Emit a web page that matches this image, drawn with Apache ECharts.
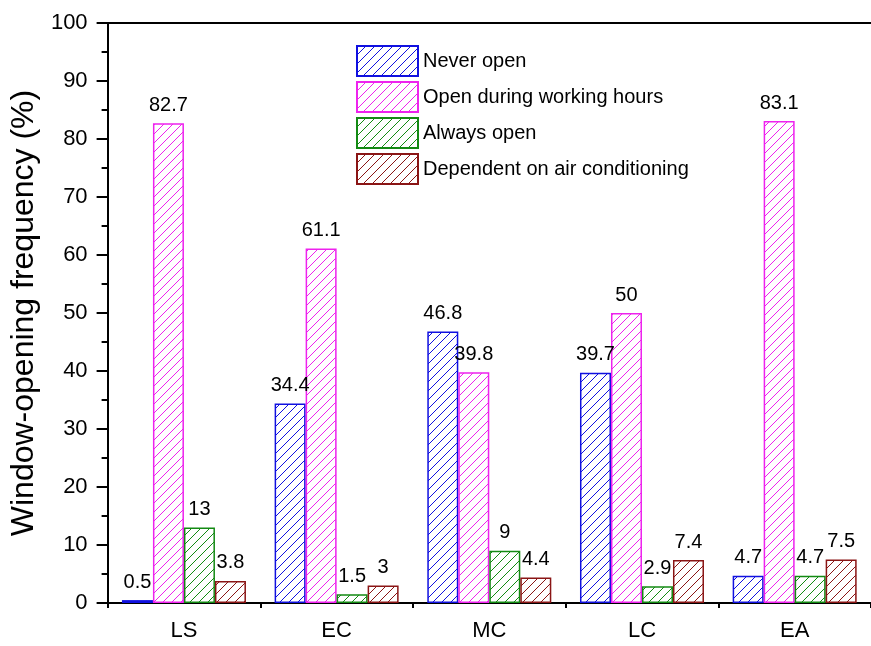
<!DOCTYPE html>
<html>
<head>
<meta charset="utf-8">
<script src="https://cdn.jsdelivr.net/npm/echarts@6/dist/echarts.min.js"></script>
<style>html,body{margin:0;padding:0;background:#fff;}#c{width:871px;height:646px;}</style>
</head>
<body>
<div id="c"></div>
<script>
const categories = ['LS', 'EC', 'MC', 'LC', 'EA'];
const seriesNames = ['Never open', 'Open during working hours', 'Always open', 'Dependent on air conditioning'];
const neverOpen = [0.5, 34.4, 46.8, 39.7, 4.7];
const openWorking = [82.7, 61.1, 39.8, 50, 83.1];
const alwaysOpen = [13, 1.5, 9, 2.9, 4.7];
const dependentAC = [3.8, 3, 4.4, 7.4, 7.5];
const yTicks = [0, 10, 20, 30, 40, 50, 60, 70, 80, 90, 100];

const colors = ['#1010e0', '#ee22ee', '#138a13', '#8a1515'];
const FONT = 'Liberation Sans, Arial, sans-serif';

function hatch(color) {
  const s = 9;
  const c = document.createElement('canvas');
  c.width = s; c.height = s;
  const g = c.getContext('2d');
  g.fillStyle = '#fff';
  g.fillRect(0, 0, s, s);
  g.strokeStyle = color;
  g.lineWidth = 1;
  g.beginPath();
  g.moveTo(0, s); g.lineTo(s, 0);
  g.moveTo(-2, 2); g.lineTo(2, -2);
  g.moveTo(s - 2, s + 2); g.lineTo(s + 2, s - 2);
  g.stroke();
  return c;
}

const dataSets = [neverOpen, openWorking, alwaysOpen, dependentAC];
const chart = echarts.init(document.getElementById('c'));
chart.setOption({
  animation: false,
  backgroundColor: '#fff',
  textStyle: { fontFamily: FONT },
  grid: { left: 106, top: 23, width: 775, height: 580, containLabel: false },
  legend: {
    orient: 'vertical', left: 351, top: 40,
    itemWidth: 61, itemHeight: 30, itemGap: 4,
    icon: 'rect',
    textStyle: { fontFamily: FONT, fontSize: 20, color: '#000' },
    data: seriesNames
  },
  xAxis: [
    {
      type: 'category', data: categories, position: 'bottom',
      axisLine: { lineStyle: { color: '#000', width: 2 } },
      axisTick: { alignWithLabel: true, length: 10, lineStyle: { color: '#000', width: 2 } },
      axisLabel: { color: '#000', fontSize: 22, fontFamily: FONT, margin: 17 }
    },
    {
      type: 'category', data: categories, position: 'bottom',
      axisLine: { show: false },
      axisTick: { show: true, length: 5, lineStyle: { color: '#000', width: 2 } },
      axisLabel: { show: false }
    },
    {
      type: 'category', data: categories, position: 'top',
      axisLine: { show: true, lineStyle: { color: '#000', width: 2 } },
      axisTick: { show: false },
      axisLabel: { show: false }
    }
  ],
  yAxis: {
    type: 'value', min: yTicks[0], max: yTicks[yTicks.length - 1], interval: 10,
    name: 'Window-opening frequency (%)',
    nameLocation: 'middle', nameGap: 62,
    nameTextStyle: { fontSize: 32, color: '#000', fontFamily: FONT },
    axisLine: { show: true, lineStyle: { color: '#000', width: 2 } },
    axisTick: { show: true, length: 11, lineStyle: { color: '#000', width: 2 } },
    minorTick: { show: true, splitNumber: 2, length: 6, lineStyle: { color: '#000', width: 2 } },
    splitLine: { show: false },
    axisLabel: { color: '#000', fontSize: 22, fontFamily: FONT, margin: 20 }
  },
  series: seriesNames.map((name, i) => ({
    name: name,
    type: 'bar',
    xAxisIndex: 0,
    data: dataSets[i],
    barWidth: 31,
    barGap: '0%',
    itemStyle: {
      color: { image: hatch(colors[i]), repeat: 'repeat' },
      borderColor: colors[i],
      borderWidth: 1.5
    },
    label: {
      show: true, position: 'top', distance: 8,
      color: '#000', fontSize: 20, fontFamily: FONT
    }
  }))
});
</script>
</body>
</html>
